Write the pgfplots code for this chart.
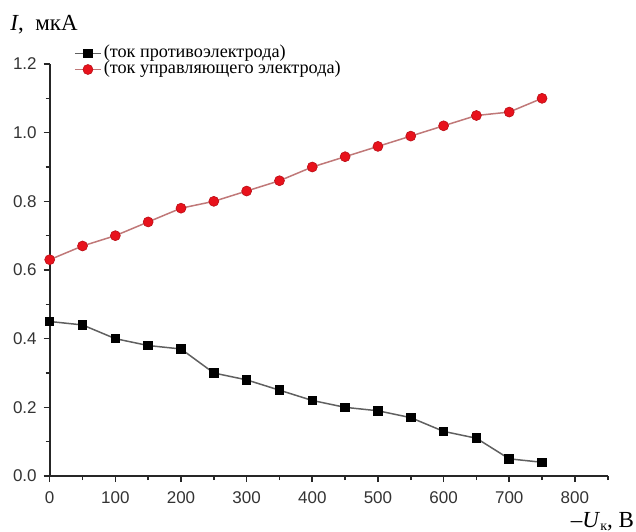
\documentclass[border=0pt]{standalone}
\usepackage{fontspec}
\setmainfont{Liberation Serif}
\newfontfamily\arial{Liberation Sans}
\usepackage{pgfplots}
\pgfplotsset{compat=1.18}
\definecolor{mred}{HTML}{E8121C}
\definecolor{mredline}{HTML}{C07878}
\definecolor{mgrayline}{HTML}{606060}
\begin{document}
\begin{tikzpicture}
\begin{axis}[
  at={(0,0)}, anchor=south west,
  width=279pt, height=206pt, scale only axis,
  xmin=0, xmax=850, ymin=0, ymax=1.2,
  axis lines*=left,
  axis line style={line width=0.9pt, black!85},
  tick align=outside,
  tick style={line width=0.8pt, black!85},
  major tick length=3pt, minor tick length=2pt,
  xtick={0,100,...,800}, minor xtick={50,150,...,850},
  ytick={0,0.2,...,1.2}, minor ytick={0.1,0.3,...,1.1},
  /pgf/number format/assume math mode=true,
  xticklabel style={/pgf/number format/fixed, yshift=-1.5pt},
  yticklabel style={/pgf/number format/fixed, /pgf/number format/fixed zerofill, /pgf/number format/precision=1},
  ticklabel style={font=\arial\fontsize{8.5}{10}\selectfont, text=black!80},
  xlabel={–\textit{U}\raisebox{-0.3ex}{\fontsize{7}{8}\selectfont к}, В},
  xlabel style={at={(axis description cs:1,0)}, anchor=base east, xshift=13.3pt, yshift=-25.5pt, font=\fontsize{11.5}{13}\selectfont, inner sep=0pt},
  ylabel={\textit{I},\ \ мкА},
  ylabel style={at={(axis description cs:0,1)}, rotate=-90, anchor=base west, xshift=-19.85pt, yshift=17pt, font=\fontsize{11.5}{13}\selectfont, inner sep=0pt},
  legend style={draw=none, fill=none, at={(axis description cs:0,1)}, anchor=north west, xshift=12pt, yshift=9pt,
    font=\fontsize{9.1}{10}\selectfont, inner sep=0pt, row sep=0.6pt,
    nodes={inner xsep=1pt, inner ysep=0pt, text height=5.6pt, text depth=1.7pt, anchor=west}},
  legend cell align=left,
  legend image code/.code={\draw[mark repeat=2,mark phase=2] plot coordinates {(0cm,0cm) (0.23cm,0cm) (0.46cm,0cm)};},
  clip=false,
]
\addplot[mgrayline, line width=0.75pt, mark=square*, mark size=2pt, mark options={fill=black, draw=black, solid}]
coordinates {(0,0.45) (50,0.44) (100,0.40) (150,0.38) (200,0.37) (250,0.30) (300,0.28) (350,0.25) (400,0.22) (450,0.20) (500,0.19) (550,0.17) (600,0.13) (650,0.11) (700,0.05) (750,0.04)};
\addlegendentry{(ток противоэлектрода)}
\addplot[mredline, line width=0.75pt, mark=*, mark size=2.5pt, mark options={fill=mred, draw=mred!80!black, line width=0.3pt, solid}]
coordinates {(0,0.63) (50,0.67) (100,0.70) (150,0.74) (200,0.78) (250,0.80) (300,0.83) (350,0.86) (400,0.90) (450,0.93) (500,0.96) (550,0.99) (600,1.02) (650,1.05) (700,1.06) (750,1.10)};
\addlegendentry{(ток управляющего электрода)}
\end{axis}
\pgfresetboundingbox
\path[use as bounding box] (-24.85pt,-27.5pt) rectangle (293.15pt,238pt);
\end{tikzpicture}
\end{document}
